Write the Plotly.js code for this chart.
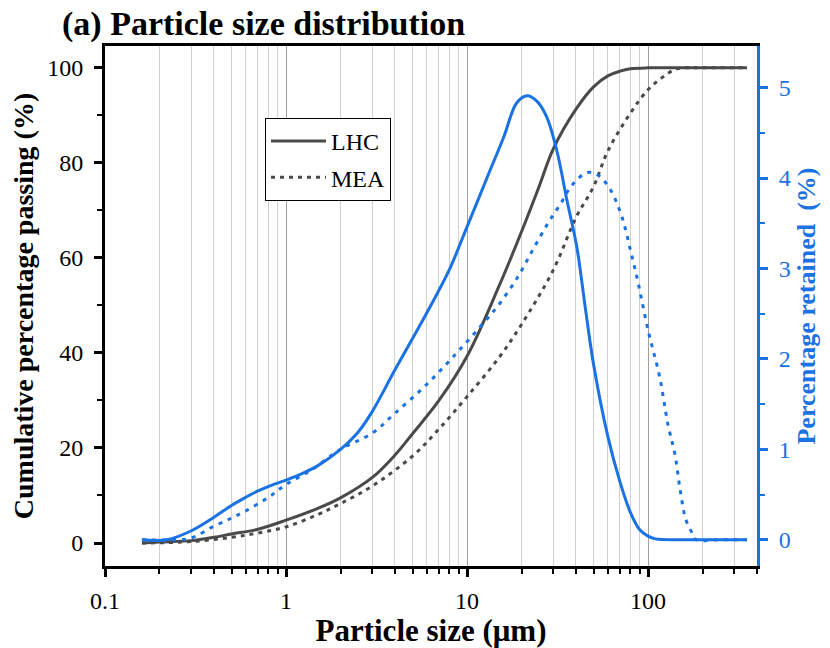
<!DOCTYPE html>
<html><head><meta charset="utf-8">
<script src="https://cdn.plot.ly/plotly-3.0.1.min.js"></script>
<style>html,body{margin:0;padding:0;background:#fff}#chart{width:830px;height:648px}</style>
</head><body><div id="chart"></div>
<script>
// Cumulative percentage passing (left axis)
const lhcCumSize = [0.16,0.2,0.3,0.4,0.5,0.7,1,1.5,2,3,4,5,7,10,15,20,25,30,40,50,60,70,80,100,150,200,352];
const lhcCum     = [0,0.2,0.5,1.2,1.9,2.9,4.8,7.3,9.5,13.8,18.5,23,30,39.3,54,65.5,75,83,91.3,96,98.3,99.3,99.8,100,100,100,100];
const meaCumSize = [0.16,0.2,0.3,0.5,0.7,1,1.5,2,3,5,7,10,15,20,30,40,50,60,80,100,120,140,160,200,352];
const meaCum     = [0,0.05,0.3,1.2,2.1,3.4,6,8.3,12,18.3,24,30.8,39,46,57.5,68.5,75,82.5,90.5,95.4,98,99.6,100,100,100];
// Percentage retained (right axis)
const lhcRetSize = [0.16,0.22,0.3,0.4,0.5,0.6,0.7,0.85,1,1.25,1.5,2,2.5,3,4,6,8,10,13,16,18.8,21.5,24.3,27.5,31.3,35.6,40.4,45,50,60,70,80,90,100,110,150,200,352];
const lhcRet     = [0,0,0.10,0.25,0.38,0.47,0.54,0.61,0.66,0.74,0.82,1.0,1.19,1.42,1.88,2.51,2.99,3.46,4.02,4.46,4.83,4.91,4.85,4.68,4.31,3.76,3.24,2.57,1.94,1.14,0.64,0.30,0.11,0.04,0.01,0,0,0];
const meaRetSize = [0.16,0.25,0.3,0.4,0.5,0.6,0.8,1,1.4,2,3,4,6,9,13,15,19,23,28,33,38,46,53,62,72,80,88,100,116,129,141,150,162,177,185,250,352];
const meaRet     = [0,0,0.02,0.15,0.24,0.32,0.47,0.61,0.78,1.0,1.18,1.4,1.72,2.09,2.45,2.6,2.9,3.2,3.5,3.72,3.92,4.06,4.03,3.87,3.56,3.2,2.85,2.32,1.8,1.27,0.94,0.57,0.22,0.06,0,0,0];

const seriesNames = ['LHC','MEA'];
const GRAY = '#4a4a4a', BLUE = '#1a72e3';
const SERIF = '"Liberation Serif","Times New Roman",Times,serif';

const traces = [
  {x: lhcCumSize, y: lhcCum, name: seriesNames[0], legendgroup:'a', mode:'lines', line:{color:GRAY, width:3, shape:'spline', smoothing:1}},
  {x: meaCumSize, y: meaCum, name: seriesNames[1], legendgroup:'b', mode:'lines', line:{color:GRAY, width:3, dash:'4px,5px', shape:'spline', smoothing:1}},
  {x: lhcRetSize, y: lhcRet, name: seriesNames[0]+' retained', yaxis:'y2', showlegend:false, mode:'lines', line:{color:BLUE, width:3, shape:'spline', smoothing:1}},
  {x: meaRetSize, y: meaRet, name: seriesNames[1]+' retained', yaxis:'y2', showlegend:false, mode:'lines', line:{color:BLUE, width:3, dash:'4px,6px', shape:'spline', smoothing:1}}
];

const layout = {
  width:830, height:648,
  margin:{l:105, r:73, t:46, b:82},
  paper_bgcolor:'#fff', plot_bgcolor:'#fff',
  font:{family:SERIF, color:'#000', size:23},
  showlegend:true,
  title:{text:'<b>(a) Particle size distribution</b>', x:62/830, xanchor:'left', xref:'container',
         y:1-23/648, yanchor:'middle', yref:'container', font:{family:SERIF, size:34, color:'#000'}},
  xaxis:{type:'log', range:[-1, Math.log10(400)], dtick:1,
    showline:true, linecolor:'#000', linewidth:3, mirror:true,
    ticks:'outside', ticklen:8, tickwidth:3, tickcolor:'#000',
    showgrid:true, gridcolor:'#a0a0a0', gridwidth:1, zeroline:false,
    minor:{dtick:'D1', ticks:'outside', ticklen:5, tickwidth:2, tickcolor:'#000', showgrid:true, gridcolor:'#d0d0d0', gridwidth:1},
    tickfont:{size:24}, ticklabelstandoff:3,
    title:{text:'<b>Particle size (μm)</b>', font:{size:31}, standoff:2}},
  yaxis:{range:[-4.84,104.6], dtick:20, showline:true, linecolor:'#000', linewidth:3,
    ticks:'outside', ticklen:8, tickwidth:3, tickcolor:'#000',
    minor:{dtick:10, ticks:'outside', ticklen:5, tickwidth:2, tickcolor:'#000'},
    showgrid:false, zeroline:false, tickfont:{size:24}, ticklabelstandoff:6,
    title:{text:'<b>Cumulative percentage passing (%)</b>', font:{size:28}, standoff:6}},
  yaxis2:{overlaying:'y', side:'right', range:[-0.29,5.46], dtick:1,
    showline:true, linecolor:BLUE, linewidth:3,
    ticks:'outside', ticklen:8, tickwidth:3, tickcolor:BLUE,
    minor:{dtick:0.5, ticks:'outside', ticklen:5, tickwidth:2, tickcolor:BLUE},
    showgrid:false, zeroline:false, tickfont:{size:24, color:BLUE}, ticklabelstandoff:6,
    title:{text:'<b>Percentage retained  (%)</b>', font:{size:26, color:BLUE}, standoff:8}},
  legend:{x:(265-105)/652, y:(566-118)/520, xanchor:'left', yanchor:'top',
    bgcolor:'#fff', bordercolor:'#000', borderwidth:1, font:{size:24, family:SERIF},
    traceorder:'grouped', tracegroupgap:2, itemwidth:55}
};

Plotly.newPlot('chart', traces, layout, {displayModeBar:false, staticPlot:true});
</script>
</body></html>
